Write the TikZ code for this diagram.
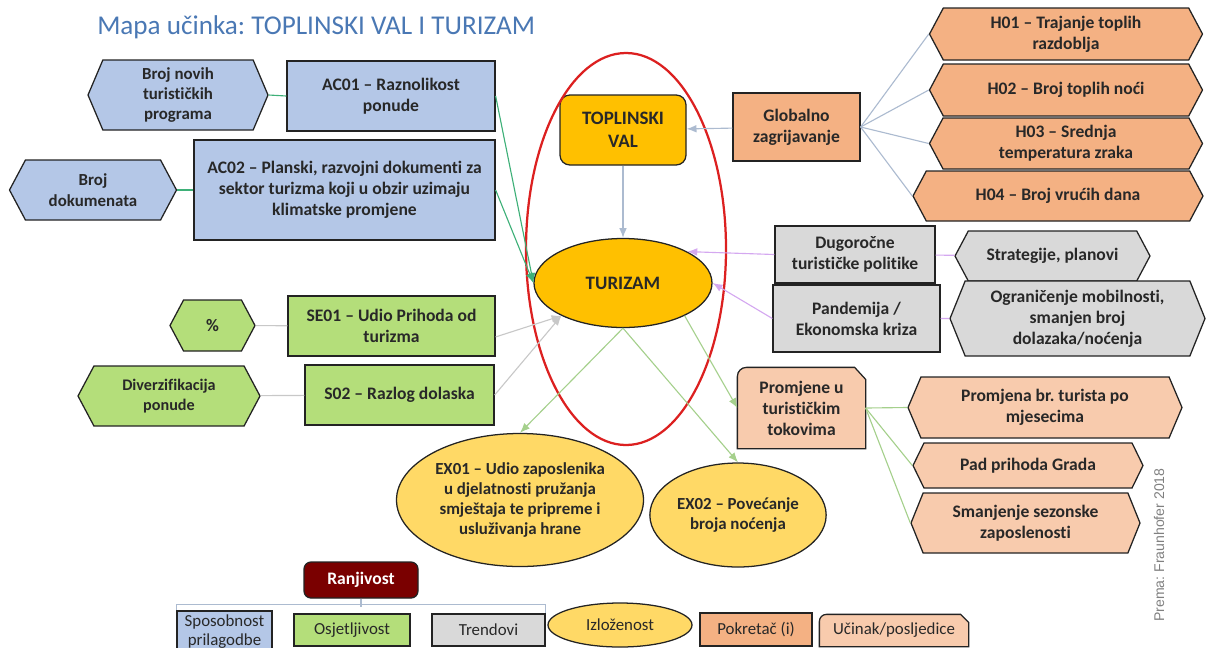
\documentclass[tikz,border=0pt]{standalone}
\usepackage{fontspec}
\setmainfont{Carlito}[Ligatures=NoCommon]
\newfontfamily\fraunfont{Liberation Sans}
\usetikzlibrary{shapes.symbols,shapes.geometric,arrows.meta,calc,backgrounds}
\frenchspacing

\definecolor{txtgray}{RGB}{40,40,40}
\definecolor{titleblue}{RGB}{74,120,180}
\definecolor{acblue}{RGB}{180,199,231}
\definecolor{segreen}{RGB}{180,222,122}
\definecolor{trgray}{RGB}{217,217,217}
\definecolor{drvsalmon}{RGB}{244,177,131}
\definecolor{effsalmon}{RGB}{248,203,173}
\definecolor{hotgold}{RGB}{255,192,0}
\definecolor{exyellow}{RGB}{255,217,102}
\definecolor{vulnred}{RGB}{122,0,0}
\definecolor{ringred}{RGB}{220,32,32}
\definecolor{linkblue}{RGB}{172,187,208}
\definecolor{linkteal}{RGB}{62,176,120}
\definecolor{linkgray}{RGB}{200,200,200}
\definecolor{linkviolet}{RGB}{212,168,240}
\definecolor{linkgreen}{RGB}{165,208,140}
\definecolor{outline}{RGB}{35,35,35}

\newcommand{\ux}{0.025cm}

\tikzset{
  nodebox/.style={draw=outline, line width=0.9pt, text=txtgray, align=center, inner sep=2pt,
    font=\fontsize{12.5}{15}\selectfont\bfseries},
  bigfont/.style={font=\fontsize{13.5}{16}\selectfont\bfseries},
  smallfont/.style={font=\fontsize{12}{14.5}\selectfont\bfseries},
  legfont/.style={font=\fontsize{12}{13.5}\selectfont},
  wh/.style 2 args={minimum width=#1*\ux, minimum height=#2*\ux},
  hexbox/.style={nodebox, signal, signal to=west and east, signal pointer angle=124},
  ovalbox/.style={nodebox, ellipse, inner sep=1pt},
  effshape/.style={draw=outline, line width=0.9pt, fill=effsalmon},
  wire/.style={line width=0.8pt},
  wirearr/.style={wire, -{Latex[length=7pt,width=5.5pt]}}
}

\begin{document}
\begin{tikzpicture}[x=\ux, y=-\ux]
  \useasboundingbox (0,0) rectangle (1216,647);
  \clip (0,0) rectangle (1216,647);

  \node[font=\fontsize{19.3}{22}\selectfont, text=titleblue, anchor=west, inner sep=0pt] (title) at (97,27) {Mapa učinka: TOPLINSKI VAL I TURIZAM};

  % sposobnost prilagodbe
  \node[hexbox, fill=acblue, wh={180}{70}, signal pointer angle=134, smallfont] (hexprog) at (178,95) {Broj novih\\turističkih\\programa};
  \node[nodebox, fill=acblue, wh={208}{70}] (ac01) at (391,96) {AC01 – Raznolikost\\ponude};
  \node[hexbox, fill=acblue, wh={167}{60}, smallfont] (hexdok) at (93,190) {Broj\\dokumenata};
  \node[nodebox, fill=acblue, wh={301}{100}] (ac02) at (344.5,190) {AC02 – Planski, razvojni dokumenti za\\sektor turizma koji u obzir uzimaju\\klimatske promjene};

  % sredina
  \node[nodebox, fill=hotgold, rounded corners=7pt, wh={126}{70}, bigfont] (toplval) at (623,130) {TOPLINSKI\\VAL};
  \node[ovalbox, fill=hotgold, wh={178}{89}, bigfont] (turizam) at (623,283) {TURIZAM};
  \draw[ringred, line width=1.6pt] (626,249) ellipse [x radius=100, y radius=196];

  % pokretaci
  \node[nodebox, fill=drvsalmon, wh={127}{68}] (global) at (796.5,127) {Globalno\\zagrijavanje};
  \node[hexbox, fill=drvsalmon, wh={273}{52}] (h01) at (1066,34) {H01 – Trajanje toplih\\razdoblja};
  \node[hexbox, fill=drvsalmon, wh={273}{52}] (h02) at (1066,90) {H02 – Broj toplih noći};
  \node[hexbox, fill=drvsalmon, wh={273}{51}] (h03) at (1066,143.5) {H03 – Srednja\\temperatura zraka};
  \node[hexbox, fill=drvsalmon, wh={290}{50}] (h04) at (1058,196) {H04 – Broj vrućih dana};

  % trendovi
  \node[nodebox, fill=trgray, wh={160}{57}] (dugo) at (855,254.5) {Dugoročne\\turističke politike};
  \node[nodebox, fill=trgray, wh={167}{67}] (pand) at (856.5,318.5) {Pandemija /\\Ekonomska kriza};
  \node[hexbox, fill=trgray, wh={195}{50}] (strat) at (1052.5,256) {Strategije, planovi};
  \node[hexbox, fill=trgray, wh={255}{75}, signal pointer angle=136] (ogr) at (1077.5,318.5) {Ograničenje mobilnosti,\\smanjen broj\\dolazaka/noćenja};

  % osjetljivost
  \node[hexbox, fill=segreen, wh={85}{51}] (hexpct) at (212.5,325.5) {\%};
  \node[nodebox, fill=segreen, wh={207}{60}] (se01) at (391.5,326) {SE01 – Udio Prihoda od\\turizma};
  \node[hexbox, fill=segreen, wh={182}{60}, font=\fontsize{11.5}{14}\selectfont\bfseries] (hexdiv) at (169,396) {Diverzifikacija\\ponude};
  \node[nodebox, fill=segreen, wh={189}{60}] (s02) at (399.5,395) {S02 – Razlog dolaska};

  % ucinci
  \node[nodebox, draw=none, wh={127}{80}] (prom) at (801.5,408) {Promjene u\\turističkim\\tokovima};
  \node[hexbox, fill=effsalmon, wh={274}{61}, signal pointer angle=134] (hmjes) at (1045,407.5) {Promjena br. turista po\\mjesecima};
  \node[hexbox, fill=effsalmon, wh={230}{45}, signal pointer angle=128] (hpad) at (1028,465.5) {Pad prihoda Grada};
  \node[hexbox, fill=effsalmon, wh={229}{60}, signal pointer angle=136] (hsez) at (1025.5,523) {Smanjenje sezonske\\zaposlenosti};

  % izlozenost
  \node[ovalbox, fill=exyellow, wh={247}{133}, font=\fontsize{12}{14.2}\selectfont\bfseries] (ex01) at (520,500) {EX01 – Udio zaposlenika\\u djelatnosti pružanja\\smještaja te pripreme i\\usluživanja hrane};
  \node[ovalbox, fill=exyellow, wh={168}{104}, font=\fontsize{12}{14.2}\selectfont\bfseries] (ex02) at (738,515) {EX02 – Povećanje\\broja noćenja};

  % legenda
  \node[nodebox, fill=vulnred, text=white, rounded corners=5pt, wh={114}{36}] (ranj) at (361,580) {Ranjivost};
  \node[nodebox, fill=acblue, wh={95}{42}, legfont] (sposob) at (224.5,632) {Sposobnost\\prilagodbe};
  \node[nodebox, fill=segreen, wh={116}{32}, legfont] (osjet) at (352,630) {Osjetljivost};
  \node[nodebox, fill=trgray, wh={113}{32}, legfont] (trend) at (488.5,630) {Trendovi};
  \node[ovalbox, fill=exyellow, wh={144}{44}, legfont] (izlo) at (620,625) {Izloženost};
  \node[nodebox, fill=drvsalmon, wh={112}{33}, legfont] (pokr) at (756,629.5) {Pokretač (i)};
  \node[nodebox, draw=none, wh={148}{31}, legfont] (ucin) at (894,630.5) {Učinak/posljedice};

  \node[font=\fraunfont\fontsize{10}{12}\selectfont, text=black!50, rotate=90] (izvor) at (1159,545) {Prema: Fraunhofer 2018};

  \begin{scope}[on background layer]
    \draw[effshape] (prom.south west) -- (prom.south east) -- ($(prom.north east)+(0,12)$)
      -- ($(prom.north east)+(-11,0)$) -- ($(prom.north west)+(9,0)$)
      arc[start angle=90, end angle=180, radius=9*\ux] -- cycle;
    \draw[effshape] (ucin.south west) -- (ucin.south east) -- ($(ucin.north east)+(0,8)$)
      -- ($(ucin.north east)+(-8,0)$) -- ($(ucin.north west)+(7,0)$)
      arc[start angle=90, end angle=180, radius=7*\ux] -- cycle;
  \end{scope}

  % veze
  \draw[linkteal, wire] (hexprog.east) -- (ac01.west);
  \draw[linkteal, wire] (hexdok.east) -- (ac02.west);
  \draw[linkteal, wirearr] (ac01.east) -- (turizam.west);
  \draw[linkteal, wirearr] (ac02.east) -- (turizam.west);
  \draw[linkblue, wirearr] (toplval) -- (turizam);
  \draw[linkblue, wirearr] (global) -- (toplval);
  \foreach \h in {h01,h02,h03,h04}
    \draw[linkblue, wire] (global.east) -- (\h.west);
  \draw[linkviolet, wirearr] (dugo.west) -- (turizam.26);
  \draw[linkviolet, wirearr] (pand.west) -- (turizam.east);
  \draw[linkviolet, wire] (dugo) -- (strat);
  \draw[linkviolet, wire] (pand) -- (ogr);
  \draw[linkgray, wire] (hexpct) -- (se01);
  \draw[linkgray, wire] (hexdiv) -- (s02);
  \draw[linkgray, wirearr] (se01.-6.6) -- (turizam.208);
  \draw[linkgray, wirearr] (s02.east) -- (turizam.208);
  \draw[linkgreen, wirearr] (turizam.south) -- (ex01.north);
  \draw[linkgreen, wirearr] (turizam.south) -- (ex02.north);
  \draw[linkgreen, wirearr] (turizam.-28) -- (prom.west);
  \foreach \h in {hmjes,hpad,hsez}
    \draw[linkgreen, wire] (prom.east) -- (\h.west);
  \draw[linkblue, wire] (ranj.south) -- ++(0,8);
  \draw[linkblue, wire] (sposob.north west) -- ++(0,-6) -| (trend.north east);
\end{tikzpicture}
\end{document}
